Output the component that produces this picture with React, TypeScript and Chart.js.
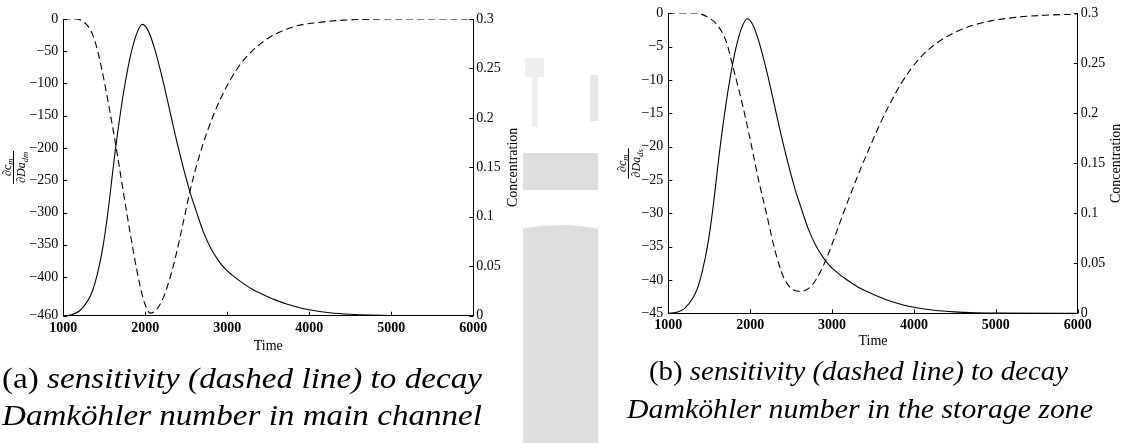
import React, { useEffect, useLayoutEffect, useRef } from 'react';
import { Chart, registerables } from 'chart.js';
Chart.register(...registerables);

// ---- data ----
const timeConc = [1000, 1100, 1200, 1305, 1360, 1415, 1480, 1537, 1631, 1700, 1752, 1822, 1894, 1963, 2030, 2106, 2220, 2310, 2402, 2545, 2620, 2707, 2800, 2890, 2972, 3060, 3155, 3300, 3460, 3600, 3732, 3870, 4000, 4250, 4500, 4750, 5000, 6000];
const concentration = [0, 0.001, 0.005, 0.016, 0.026, 0.042, 0.068, 0.1, 0.165, 0.207, 0.234, 0.264, 0.285, 0.2946, 0.289, 0.272, 0.236, 0.203, 0.17, 0.125, 0.106, 0.085, 0.068, 0.056, 0.0475, 0.041, 0.035, 0.027, 0.0205, 0.0155, 0.0115, 0.0083, 0.006, 0.003, 0.0014, 0.0006, 0.0002, 0];

const timeSensA = [1000, 1150, 1230, 1300, 1360, 1420, 1500, 1570, 1643, 1712, 1773, 1854, 1935, 1990, 2060, 2140, 2220, 2300, 2380, 2460, 2545, 2650, 2768, 2931, 3155, 3439, 3805, 4091, 4415, 5000, 6000];
const sensitivityA = [0, 0, -3, -11, -25, -50, -97, -145, -198, -252, -300, -360, -413, -440, -456, -450, -432, -402, -363, -317, -267, -216, -170, -120, -71, -35, -12, -5.7, -1.8, 0, 0];

const timeSensB = [1000, 1347, 1469, 1611, 1713, 1775, 1856, 1938, 2020, 2101, 2204, 2306, 2408, 2530, 2632, 2754, 2856, 2938, 3060, 3183, 3346, 3470, 3570, 3692, 3855, 4058, 4262, 4506, 4832, 5239, 5646, 6000];
const sensitivityB = [0, 0, -0.48, -1.95, -4.4, -7.3, -11.2, -15.4, -20.1, -24.9, -30.3, -35.7, -39.6, -41.5, -41.7, -40.8, -38.8, -36.6, -32.6, -28.5, -23.4, -19.8, -17.0, -13.9, -10.3, -6.9, -4.6, -2.8, -1.4, -0.6, -0.25, -0.1];

const xTicks = [1000, 2000, 3000, 4000, 5000, 6000];
const yTicksA = [0, -50, -100, -150, -200, -250, -300, -350, -400, -460];
const yTicksB = [0, -5, -10, -15, -20, -25, -30, -35, -40, -45];
const concTicks = [0, 0.05, 0.1, 0.15, 0.2, 0.25, 0.3];

const SERIF = '"Liberation Serif", "Times New Roman", serif';

const fmtNeg = (v: number) => (v < 0 ? '\u2212' + String(-v) : String(v));

const decorPlugin = {
  id: 'decor',
  afterDraw(chart: any, _args: any, opts: any) {
    const ctx: CanvasRenderingContext2D = chart.ctx;
    const { left, right, top, bottom } = chart.chartArea;
    const xs = chart.scales.x, yl = chart.scales.y, yr = chart.scales.y2;
    ctx.save();
    ctx.strokeStyle = '#000';
    ctx.lineWidth = 1;
    ctx.beginPath();
    xs.ticks.forEach((t: any) => {
      const px = Math.round(xs.getPixelForValue(t.value)) + 0.5;
      ctx.moveTo(px, bottom);
      ctx.lineTo(px, bottom - 4);
    });
    yl.ticks.forEach((t: any) => {
      const py = Math.round(yl.getPixelForValue(t.value)) + 0.5;
      ctx.moveTo(left, py);
      ctx.lineTo(left + 4, py);
    });
    yr.ticks.forEach((t: any) => {
      const py = Math.round(yr.getPixelForValue(t.value)) + 0.5;
      ctx.moveTo(right, py);
      ctx.lineTo(right - 4, py);
    });
    ctx.stroke();

    ctx.fillStyle = '#000';
    ctx.font = '14px ' + SERIF;
    ctx.textAlign = 'center';
    ctx.textBaseline = 'middle';
    ctx.fillText('Time', (left + right) / 2, bottom + opts.timeOffset);

    ctx.save();
    ctx.translate(right + opts.concOffset, (top + bottom) / 2);
    ctx.rotate(-Math.PI / 2);
    ctx.fillText('Concentration', 0, 0);
    ctx.restore();

    // fraction label  ∂c_m / ∂Da_xx
    ctx.save();
    ctx.translate(opts.fracX, (top + bottom) / 2);
    ctx.rotate(-Math.PI / 2);
    const big = 'italic 12px ' + SERIF;
    const small = 'italic 8.5px ' + SERIF;
    ctx.textBaseline = 'alphabetic';
    ctx.textAlign = 'left';
    const drawPart = (main: string, sub: string, baseY: number) => {
      ctx.font = big;
      const w1 = ctx.measureText(main).width;
      ctx.font = small;
      const w2 = ctx.measureText(sub).width;
      const w = w1 + w2;
      ctx.font = big;
      ctx.fillText(main, -w / 2, baseY);
      ctx.font = small;
      ctx.fillText(sub, -w / 2 + w1, baseY + 2.5);
      return w;
    };
    drawPart('\u2202c', 'm', -4.5);
    const wd = drawPart('\u2202Da', opts.fracSub, 10);
    ctx.beginPath();
    ctx.lineWidth = 1;
    ctx.moveTo(-wd / 2 - 1, -1.5);
    ctx.lineTo(wd / 2 + 1, -1.5);
    ctx.stroke();
    ctx.restore();

    ctx.restore();
  },
};

function makeConfig(sT: number[], sV: number[], yTicks: number[], yMin: number, o: any): any {
  const tickFont = { family: SERIF, size: 14 };
  return {
    type: 'line',
    data: {
      datasets: [
        {
          label: 'Concentration',
          data: timeConc.map((t, i) => ({ x: t, y: concentration[i] })),
          yAxisID: 'y2',
          borderColor: '#000',
          borderWidth: 1.1,
          pointRadius: 0,
          cubicInterpolationMode: 'monotone',
          fill: false,
        },
        {
          label: 'Sensitivity',
          data: sT.map((t, i) => ({ x: t, y: sV[i] })),
          yAxisID: 'y',
          borderColor: '#000',
          borderWidth: 1.1,
          borderDash: [7, 4],
          pointRadius: 0,
          cubicInterpolationMode: 'monotone',
          fill: false,
        },
      ],
    },
    options: {
      animation: false,
      responsive: false,
      maintainAspectRatio: false,
      layout: { padding: { top: o.top, left: 0, right: 0, bottom: 0 } },
      plugins: {
        legend: { display: false },
        tooltip: { enabled: false },
        decor: { timeOffset: o.timeOffset, concOffset: o.concOffset, fracX: o.fracX, fracSub: o.fracSub },
      },
      scales: {
        x: {
          type: 'linear',
          min: 1000,
          max: 6000,
          afterBuildTicks: (s: any) => { s.ticks = xTicks.map((v) => ({ value: v })); },
          afterFit: (s: any) => { s.height = o.xH; },
          grid: { display: true, drawOnChartArea: false, drawTicks: false },
          border: { display: true, color: '#000', width: 1 },
          ticks: { padding: o.xPad, font: { ...tickFont, weight: 'bold' }, color: '#000', maxRotation: 0, autoSkip: false, callback: (v: number) => String(v) },
        },
        y: {
          position: 'left',
          min: yMin,
          max: 0,
          afterBuildTicks: (s: any) => { s.ticks = yTicks.map((v) => ({ value: v })); },
          afterFit: (s: any) => { s.width = o.yLW; },
          grid: { display: true, drawOnChartArea: false, drawTicks: false },
          border: { display: true, color: '#000', width: 1 },
          ticks: { padding: 5, font: tickFont, color: '#000', autoSkip: false, callback: (v: number) => fmtNeg(v) },
        },
        y2: {
          position: 'right',
          min: 0,
          max: 0.3,
          afterBuildTicks: (s: any) => { s.ticks = concTicks.map((v) => ({ value: v })); },
          afterFit: (s: any) => { s.width = o.yRW; },
          grid: { display: true, drawOnChartArea: false, drawTicks: false },
          border: { display: true, color: '#000', width: 1 },
          ticks: { padding: 3, font: tickFont, color: '#000', autoSkip: false, callback: (v: number) => String(+v.toFixed(2)) },
        },
      },
    },
    plugins: [decorPlugin],
  };
}

function ChartBox(props: { left: number; width: number; height: number; config: () => any }) {
  const ref = useRef<HTMLCanvasElement>(null);
  useEffect(() => {
    const c = new Chart(ref.current as HTMLCanvasElement, props.config());
    return () => c.destroy();
  }, []);
  return (
    <canvas
      ref={ref}
      width={props.width}
      height={props.height}
      style={{ position: 'absolute', left: props.left, top: 0, width: props.width, height: props.height }}
    />
  );
}

function FitLine(props: { cx: number; top: number; width: number; size: number; children: React.ReactNode }) {
  const ref = useRef<HTMLDivElement>(null);
  useLayoutEffect(() => {
    const el = ref.current;
    if (!el) return;
    el.style.transform = 'none';
    const w = el.getBoundingClientRect().width;
    el.style.transform = `scaleX(${props.width / w})`;
  }, []);
  return (
    <div
      ref={ref}
      style={{
        position: 'absolute',
        left: props.cx - props.width / 2,
        top: props.top,
        whiteSpace: 'nowrap',
        transformOrigin: '0 0',
        fontFamily: SERIF,
        fontSize: props.size,
        lineHeight: 'normal',
        color: '#000',
      }}
    >
      {props.children}
    </div>
  );
}

export default function App() {
  useEffect(() => {
    document.body.style.margin = '0';
    document.body.style.background = '#fff';
  }, []);
  const gray = '#dedede';
  return (
    <div style={{ position: 'relative', width: 1132, height: 443, overflow: 'hidden', background: '#fff' }}>
      {/* faint watermark pieces in the gap */}
      <div style={{ position: 'absolute', left: 525, top: 58, width: 19, height: 19, background: '#eeeeee' }} />
      <div style={{ position: 'absolute', left: 532, top: 77, width: 6, height: 50, background: '#eeeeee' }} />
      <div style={{ position: 'absolute', left: 590, top: 75, width: 8, height: 46, background: '#e6e6e6' }} />
      <div style={{ position: 'absolute', left: 523, top: 153, width: 75, height: 37, background: gray }} />
      <div style={{ position: 'absolute', left: 523, top: 225, width: 75, height: 218, overflow: 'hidden' }}>
        <div style={{ position: 'absolute', left: -158, top: 0, width: 390, height: 390, borderRadius: '50%', background: gray }} />
      </div>

      <ChartBox
        left={0}
        width={523}
        height={362}
        config={() =>
          makeConfig(timeSensA, sensitivityA, yTicksA, -460, {
            top: 19, xH: 46.3, yLW: 63.3, yRW: 523 - 473.3, xPad: 4,
            timeOffset: 31, concOffset: 40, fracX: 15, fracSub: 'dm',
          })
        }
      />
      <ChartBox
        left={598}
        width={534}
        height={362}
        config={() =>
          makeConfig(timeSensB, sensitivityB, yTicksB, -45, {
            top: 6.7, xH: 48.7, yLW: 70.3, yRW: 534 - 479.7, xPad: 4,
            timeOffset: 28, concOffset: 39, fracX: 32, fracSub: 'ds',
          })
        }
      />

      <FitLine cx={242} top={361.3} width={480} size={30}>
        (a) <i>sensitivity (dashed line) to decay</i>
      </FitLine>
      <FitLine cx={242} top={398.3} width={480} size={30}>
        <i>Damköhler number in main channel</i>
      </FitLine>
      <FitLine cx={858.5} top={356.4} width={419} size={27}>
        (b) <i>sensitivity (dashed line) to decay</i>
      </FitLine>
      <FitLine cx={860} top={393.9} width={466} size={27}>
        <i>Damköhler number in the storage zone</i>
      </FitLine>
    </div>
  );
}
